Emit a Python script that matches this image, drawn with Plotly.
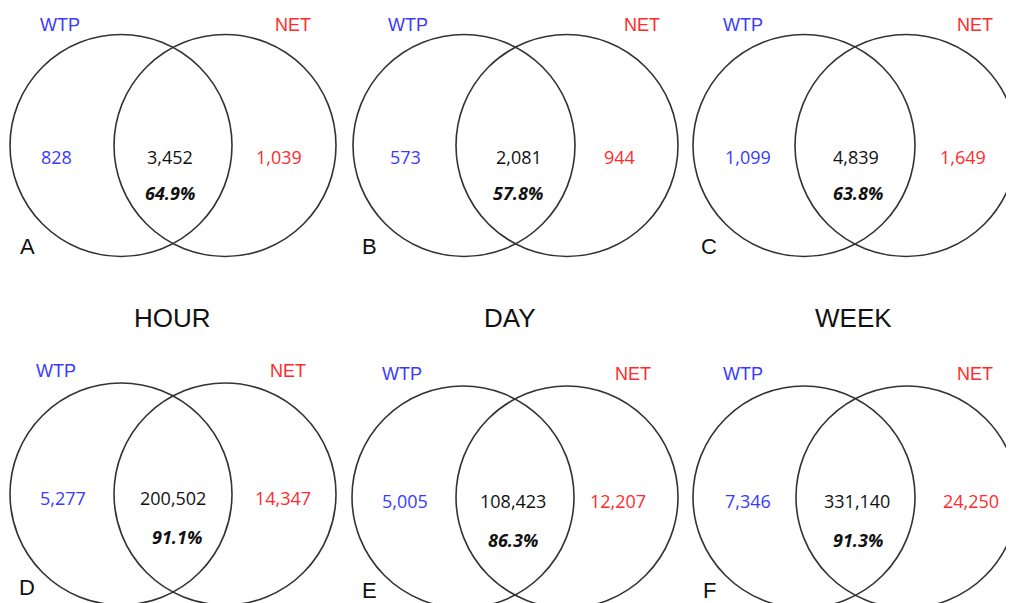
import plotly.graph_objects as go

# ---- data ----
panel_letters = ["A", "B", "C", "D", "E", "F"]
row_titles = ["HOUR", "DAY", "WEEK"]
set_left_name = "WTP"
set_right_name = "NET"
wtp_only = [828, 573, 1099, 5277, 5005, 7346]
shared = [3452, 2081, 4839, 200502, 108423, 331140]
net_only = [1039, 944, 1649, 14347, 12207, 24250]
overlap_pct = [64.9, 57.8, 63.8, 91.1, 86.3, 91.3]

# ---- layout (page-pixel geometry of each panel) ----
W, H = 1014, 603
PAGE_OFF = 8  # default body margin of the html page
R = 111
# (left circle cx, right circle cx, cy)
panels = [(121, 225, 145.5), (464, 567, 145.5), (804, 906, 145.5),
          (121, 225, 494), (463, 567, 497), (804, 907, 497)]
# label x positions per panel: WTP name, NET name, left num, mid num, right num, pct
label_x = [(60, 293, 56, 170, 279, 170),
           (408, 642, 405, 519, 619, 518),
           (743, 975, 748, 856, 963, 858),
           (56, 288, 63, 173, 283, 177),
           (402, 633, 405, 513, 618, 513),
           (743, 975, 748, 857, 971, 858)]
# per-row vertical offsets relative to cy: set name, numbers, pct, letter
row_off = [dict(name=-121, num=11, pct=47, let=101),
           dict(name=-123, num=4, pct=43, let=93)]
title_y = 318
title_x = [172, 510, 853]

BLUE = "#3a3aff"
RED = "#ff2b2b"
LINE = "#333333"
NUMFONT = "Open Sans"
LABFONT = "Liberation Sans, Arial"

fig = go.Figure()
shapes = []
ann = []

def fmt(v):
    return f"{v:,}"

for i, (cl, cr, cy) in enumerate(panels):
    ro = row_off[0] if i < 3 else row_off[1]
    mid = (cl + cr) / 2
    xw, xn, xl, xm, xr, xp = label_x[i]
    for cx in (cl, cr):
        shapes.append(dict(type="circle", xref="x", yref="y",
                           x0=cx - R, x1=cx + R, y0=cy - R, y1=cy + R,
                           line=dict(color=LINE, width=1.6), layer="above"))
    ann += [
        dict(x=xw, y=cy + ro["name"], text=set_left_name,
             font=dict(family=LABFONT, size=18, color=BLUE)),
        dict(x=xn, y=cy + ro["name"], text=set_right_name,
             font=dict(family=LABFONT, size=18, color=RED)),
        dict(x=xl, y=cy + ro["num"], text=fmt(wtp_only[i]),
             font=dict(family=NUMFONT, size=18, color=BLUE)),
        dict(x=xm, y=cy + ro["num"], text=fmt(shared[i]),
             font=dict(family=NUMFONT, size=18, color="#111111")),
        dict(x=xr, y=cy + ro["num"], text=fmt(net_only[i]),
             font=dict(family=NUMFONT, size=18, color=RED)),
        dict(x=xp, y=cy + ro["pct"], text=f"<b><i>{overlap_pct[i]:.1f}%</i></b>",
             font=dict(family=NUMFONT, size=18, color="#111111")),
        dict(x=mid - 146, y=cy + ro["let"], text=panel_letters[i],
             font=dict(family=LABFONT, size=22, color="#111111")),
    ]

for t, tx in zip(row_titles, title_x):
    ann.append(dict(x=tx, y=title_y, text=t,
                    font=dict(family=LABFONT, size=26, color="#111111")))

for a in ann:
    a.update(xref="x", yref="y", showarrow=False, xanchor="center", yanchor="middle")

fig.update_layout(
    width=W - PAGE_OFF, height=H - PAGE_OFF,
    margin=dict(l=0, r=0, t=0, b=0),
    paper_bgcolor="white", plot_bgcolor="white",
    shapes=shapes, annotations=ann,
    xaxis=dict(range=[PAGE_OFF, W], visible=False, fixedrange=True),
    yaxis=dict(range=[H, PAGE_OFF], visible=False, fixedrange=True),
    showlegend=False,
)

fig.write_html("out.html")
